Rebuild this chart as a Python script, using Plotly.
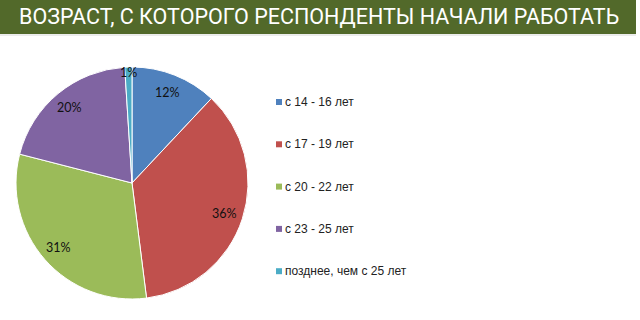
import math
import plotly.graph_objects as go

# ---- data ----
categories = ["с 14 - 16 лет", "с 17 - 19 лет", "с 20 - 22 лет", "с 23 - 25 лет", "позднее, чем с 25 лет"]
values = [12, 36, 31, 20, 1]
colors = ["#4F81BD", "#C0504D", "#9BBB59", "#8064A2", "#4BACC6"]
title_text = "ВОЗРАСТ, С КОТОРОГО РЕСПОНДЕНТЫ НАЧАЛИ РАБОТАТЬ"

W, H = 640, 320
cx, cy, R = 132, 183, 116  # pie centre / radius in px (top-left origin)

fig = go.Figure()
fig.add_trace(go.Pie(
    labels=categories, values=values, sort=False, direction="clockwise", rotation=0,
    marker=dict(colors=colors, line=dict(color="#ffffff", width=1)),
    textinfo="none", hoverinfo="label+percent", showlegend=False,
    domain=dict(x=[(cx - R) / W, (cx + R) / W], y=[(H - cy - R) / H, (H - cy + R) / H]),
))

shapes = []
annotations = []

# title bar
shapes.append(dict(type="rect", xref="paper", yref="paper", x0=0, x1=636 / W, y0=1 - 34 / H, y1=1,
                   fillcolor="#52692A", line=dict(width=0), layer="below"))
shapes.append(dict(type="line", xref="paper", yref="paper", x0=0, x1=636 / W, y0=1 - 35 / H, y1=1 - 35 / H,
                   line=dict(color="#d8d8d8", width=1)))
annotations.append(dict(text=title_text, xref="paper", yref="paper", x=319 / W, y=1 - 17 / H,
                        xanchor="center", yanchor="middle", showarrow=False,
                        font=dict(family="Roboto, Liberation Sans, Arial", size=21.5, color="#ffffff")))

# percentage labels placed from data
total = sum(values)
cum = 0
for v in values:
    mid = (cum + v / 2) / total * 2 * math.pi
    cum += v
    rf = 0.84 if v / total >= 0.03 else 0.95
    px = cx + rf * R * math.sin(mid)
    py = cy - rf * R * math.cos(mid)
    annotations.append(dict(text=f"{round(v / total * 100)}%", xref="paper", yref="paper",
                            x=px / W, y=1 - py / H, xanchor="center", yanchor="middle", showarrow=False,
                            font=dict(family="Lato, Open Sans, sans-serif", size=12.5, color="#111111")))

# legend
leg_x, leg_y0, leg_dy = 276, 102, 42.3
for i, (name, col) in enumerate(zip(categories, colors)):
    yy = leg_y0 + i * leg_dy
    shapes.append(dict(type="rect", xref="paper", yref="paper",
                       x0=leg_x / W, x1=(leg_x + 6) / W, y0=1 - (yy + 3) / H, y1=1 - (yy - 3) / H,
                       fillcolor=col, line=dict(width=0)))
    annotations.append(dict(text=name, xref="paper", yref="paper", x=(leg_x + 7) / W, y=1 - yy / H,
                            xanchor="left", yanchor="middle", showarrow=False,
                            font=dict(family="Liberation Sans, Arial, sans-serif", size=12, color="#222222")))

fig.update_layout(
    width=W, height=H, margin=dict(l=0, r=0, t=0, b=0),
    paper_bgcolor="#ffffff", plot_bgcolor="#ffffff",
    shapes=shapes, annotations=annotations,
)

fig.write_html("out.html")
